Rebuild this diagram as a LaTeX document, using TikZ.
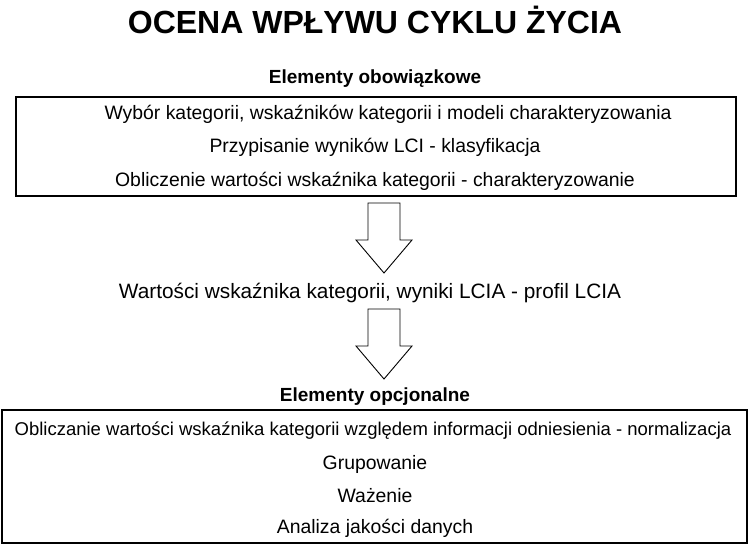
\documentclass[tikz,border=0pt]{standalone}
\usepackage{fontspec}
\setmainfont{Liberation Sans}
\begin{document}
\begin{tikzpicture}[x=1pt,y=-1pt,
  txt/.style={font=\fontsize{19.4}{23}\selectfont, inner sep=0},
  hd/.style={font=\bfseries\fontsize{19}{23}\selectfont, inner sep=0},
  bx/.style={draw, line width=1.2pt},
  arr/.style={draw, line width=0.9pt, fill=white}]
\useasboundingbox (0,0) rectangle (750,545);
\node[font=\bfseries\fontsize{32}{38}\selectfont, inner sep=0] (title) at (375,20) {OCENA WPŁYWU CYKLU ŻYCIA};
\node[hd] (h1) at (375,79) {Elementy obowiązkowe};
\draw[bx] (16,97) rectangle (736,196);
\node[txt] (a1) at (388,114) {Wybór kategorii, wskaźników kategorii i modeli charakteryzowania};
\node[txt] (a2) at (375,147) {Przypisanie wyników LCI - klasyfikacja};
\node[txt] (a3) at (375,181) {Obliczenie wartości wskaźnika kategorii - charakteryzowanie};
\draw[arr] (368,203) -- (400,203) -- (400,240) -- (412,240) -- (384,273) -- (356,240) -- (368,240) -- cycle;
\node[font=\fontsize{20.8}{25}\selectfont, inner sep=0] (m) at (370,293) {Wartości wskaźnika kategorii, wyniki LCIA - profil LCIA};
\draw[arr] (368,309) -- (400,309) -- (400,346) -- (412,346) -- (384,379) -- (356,346) -- (368,346) -- cycle;
\node[hd] (h2) at (375,397) {Elementy opcjonalne};
\draw[bx] (2,410) rectangle (747,543);
\node[txt, font=\fontsize{18.5}{22}\selectfont] (b1) at (373,431) {Obliczanie wartości wskaźnika kategorii względem informacji odniesienia - normalizacja};
\node[txt] (b2) at (375,464) {Grupowanie};
\node[txt] (b3) at (375,496) {Ważenie};
\node[txt] (b4) at (375,528) {Analiza jakości danych};
\end{tikzpicture}
\end{document}
